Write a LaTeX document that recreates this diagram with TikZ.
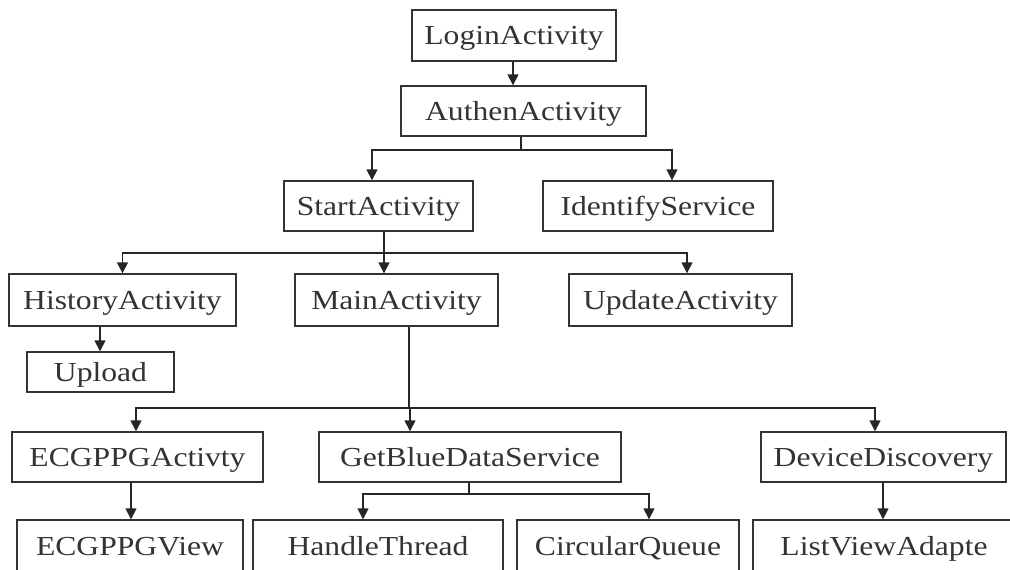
\documentclass[tikz,border=0pt]{standalone}
\usepackage{fontspec}
\setmainfont[FakeStretch=1.15]{Liberation Serif}
\usetikzlibrary{arrows.meta}
\begin{document}
\begin{tikzpicture}[x=1pt,y=-1pt,
  box/.style={draw=black!80, line width=1.4pt, inner sep=0pt, text=black!80,
    font=\fontsize{27.5}{30}\selectfont, text height=18.2pt, text depth=0pt, minimum height=50pt},
  link/.style={draw=black!85, line width=1.6pt},
  arr/.style={link, -{Triangle[width=11pt,length=11pt]}}]
\useasboundingbox (0,0) rectangle (1010,570);
\clip (0,0) rectangle (1010,570);
% nodes
\node[box, minimum width=204pt, minimum height=51pt] (login) at (514,35.5) {LoginActivity};
\node[box, minimum width=245pt] (auth) at (523.5,111) {AuthenActivity};
\node[box, minimum width=189pt] (start) at (378.5,206) {StartActivity};
\node[box, minimum width=230pt] (ident) at (658,206) {IdentifyService};
\node[box, minimum width=227pt, minimum height=52pt] (hist) at (122.5,300) {HistoryActivity};
\node[box, minimum width=203pt, minimum height=52pt] (main) at (396.5,300) {MainActivity};
\node[box, minimum width=223pt, minimum height=52pt] (upd) at (680.5,300) {UpdateActivity};
\node[box, minimum width=147pt, minimum height=40pt] (upl) at (100.5,372) {Upload};
\node[box, minimum width=251pt] (ecga) at (137.5,457) {ECGPPGActivty};
\node[box, minimum width=302pt] (gbds) at (470,457) {GetBlueDataService};
\node[box, minimum width=245pt] (dev) at (883.5,457) {DeviceDiscovery};
\node[box, minimum width=226pt, minimum height=52pt] (ecgv) at (130,546) {ECGPPGView};
\node[box, minimum width=250pt, minimum height=52pt] (hand) at (378,546) {HandleThread};
\node[box, minimum width=222pt, minimum height=52pt] (circ) at (628,546) {CircularQueue};
\node[box, minimum width=262pt, minimum height=52pt] (list) at (884,546) {ListViewAdapte};
% junctions
\coordinate (j1) at (521,150);
\coordinate (j2) at (384,253);
\coordinate (j3) at (409,408);
\coordinate (j4) at (469,494);
\coordinate (xh) at (363,0);
\coordinate (xc) at (649,0);
% connectors
\draw[arr] ([xshift=-1pt]login.south) -- ([xshift=-1pt]login.south |- auth.north);
\draw[link] (auth.south -| j1) -- (j1);
\draw[arr] (j1) -| ([xshift=-6.5pt]start.north);
\draw[arr] (j1) -| ([xshift=14pt]ident.north);
\draw[link] (start.south -| j2) -- (j2);
\draw[arr] (j2) -| (hist.north);
\draw[arr] (j2) -- (j2 |- main.north);
\draw[arr] (j2) -| ([xshift=6.5pt]upd.north);
\draw[arr] ([xshift=-22.5pt]hist.south) -- ([xshift=-22.5pt]hist.south |- upl.north);
\draw[link] (main.south -| j3) -- (j3);
\draw[arr] (j3) -| ([xshift=-1.5pt]ecga.north);
\draw[arr] (j3) -| ([xshift=-60pt]gbds.north);
\draw[arr] (j3) -| ([xshift=-8.5pt]dev.north);
\draw[arr] ([xshift=-6.5pt]ecga.south) -- ([xshift=-6.5pt]ecga.south |- ecgv.north);
\draw[link] (gbds.south -| j4) -- (j4);
\draw[arr] (j4) -| (hand.north -| xh);
\draw[arr] (j4) -| (circ.north -| xc);
\draw[arr] ([xshift=-0.5pt]dev.south) -- ([xshift=-0.5pt]dev.south |- list.north);
\end{tikzpicture}
\end{document}
